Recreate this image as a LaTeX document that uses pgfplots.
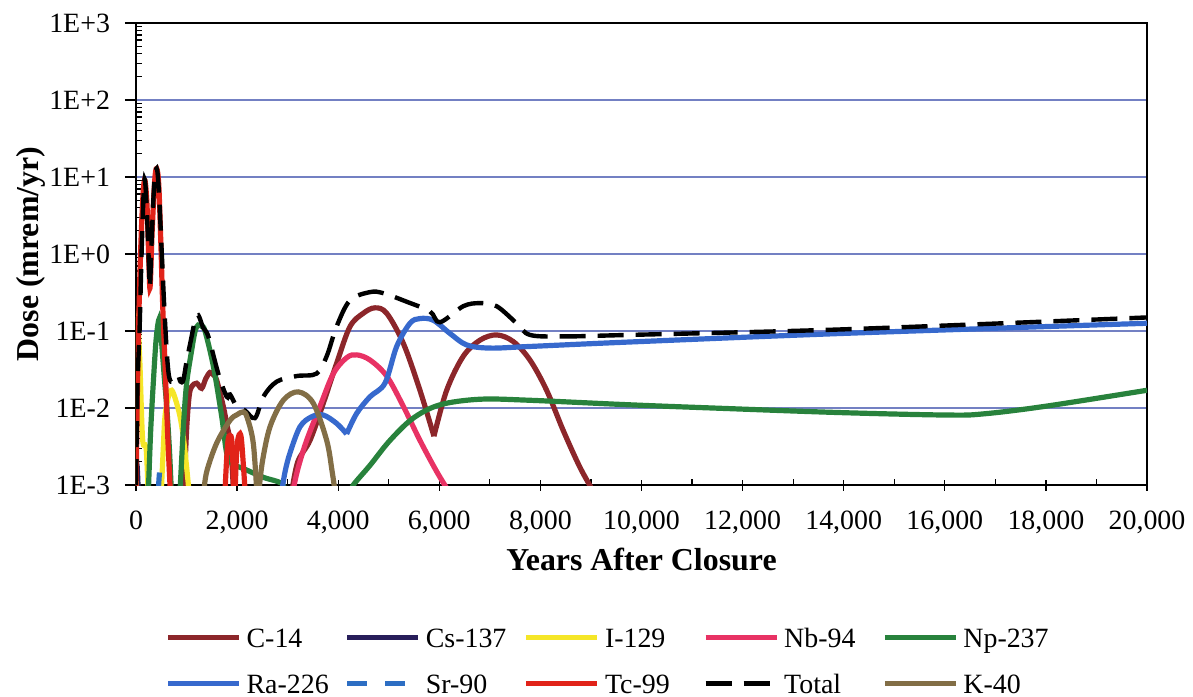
\documentclass[border=0pt]{standalone}
\usepackage{pgfplots}
\pgfplotsset{compat=1.18}
\usepackage{fontspec}
\setmainfont{Liberation Serif}
\definecolor{c14}{RGB}{140,38,42}
\definecolor{cs137}{RGB}{40,30,90}
\definecolor{i129}{RGB}{245,230,40}
\definecolor{nb94}{RGB}{232,50,100}
\definecolor{np237}{RGB}{40,130,60}
\definecolor{ra226}{RGB}{55,105,205}
\definecolor{sr90}{RGB}{45,110,195}
\definecolor{tc99}{RGB}{225,35,25}
\definecolor{k40}{RGB}{130,110,70}
\definecolor{gridc}{RGB}{115,128,195}
\begin{document}
\begin{tikzpicture}
\begin{axis}[
  width=505.5bp, height=231bp, scale only axis,
  xmin=0, xmax=20000, ymode=log, ymin=1e-3, ymax=1e3,
  scaled x ticks=false,
  xtick={0,2000,4000,6000,8000,10000,12000,14000,16000,18000,20000},
  xticklabels={0,{2,000},{4,000},{6,000},{8,000},{10,000},{12,000},{14,000},{16,000},{18,000},{20,000}},
  minor xtick={1000,3000,5000,7000,9000,11000,13000,15000,17000,19000},
  ytick={1e-3,1e-2,1e-1,1,10,100,1000},
  yticklabels={1E-3,1E-2,1E-1,1E+0,1E+1,1E+2,1E+3},
  minor ytick={2e-3,3e-3,4e-3,5e-3,6e-3,7e-3,8e-3,9e-3,2e-2,3e-2,4e-2,5e-2,6e-2,7e-2,8e-2,9e-2,0.2,0.3,0.4,0.5,0.6,0.7,0.8,0.9,2,3,4,5,6,7,8,9,20,30,40,50,60,70,80,90,200,300,400,500,600,700,800,900},
  tick pos=left, tick align=inside,
  major tick length=5.5bp, minor tick length=3bp,
  every major x tick/.append style={yshift=-2.75bp},
  every major y tick/.append style={xshift=-5.5bp},
  tick style={black, line width=0.6bp},
  axis line style={black, line width=0.7bp},
  ymajorgrids, major grid style={gridc, line width=0.6bp},
  ticklabel style={font=\fontsize{14}{16}\selectfont},
  xticklabel style={yshift=-9.5bp},
  yticklabel style={xshift=-9.5bp},
  xlabel={Years After Closure}, ylabel={Dose (mrem/yr)},
  ylabel shift=-5bp,
  xlabel style={font=\bfseries\fontsize{16}{19}\selectfont},
  ylabel style={font=\bfseries\fontsize{16}{19}\selectfont},
  clip=true,
  legend columns=5,
  legend cell align=left,
  legend image code/.code={\draw[#1] (0bp,0bp) -- (35.5bp,0bp);},
  legend style={at={(0.0287,-0.3007)}, anchor=north west, draw=none, fill=none,
    inner sep=0pt, font=\fontsize{14}{16.8}\selectfont, nodes={inner sep=0pt},
    row sep=9.7bp,
    /tikz/every odd column/.append style={column sep=2.5bp}},
  every axis plot/.append style={line width=2.6bp, smooth, tension=0.55},
]
% C-14
\addplot[c14] coordinates {(950,0.0008)(1000,0.005)(1050,0.014)(1101,0.019)(1200,0.021)(1299,0.018)(1380,0.024)(1464,0.029)(1530,0.027)(1596,0.023)(1727,0.0105)(1800,0.006)(1859,0.0038)(1900,0.0018)(1930,0.0008)};
\addlegendentry{\makebox[49bp][l]{\strut C-14}}
\addplot[c14, forget plot] coordinates {(3080,0.0008)(3200,0.002)(3442,0.0038)(3705,0.0115)(3969,0.038)(4233,0.114)(4496,0.17)(4727,0.20)(4959,0.17)(5289,0.069)(5617,0.017)(5894,0.0043)};
\addplot[c14, forget plot] coordinates {(5894,0.0043)(6146,0.017)(6474,0.047)(6804,0.076)(7134,0.089)(7463,0.073)(7793,0.042)(8123,0.017)(8452,0.0051)(8782,0.0017)(9060,0.0008)};
% Cs-137
\addplot[cs137] coordinates {(0,0.0008)(20,0.0018)(45,0.0008)};
\addlegendentry{\makebox[49bp][l]{\strut Cs-137}}
% I-129
\addplot[i129] coordinates {(500,0.0008)(540,0.003)(574,0.0078)(640,0.014)(706,0.017)(780,0.013)(870,0.0078)(940,0.004)(1002,0.0017)(1050,0.0008)};
\addlegendentry{\makebox[49bp][l]{\strut I-129}}
\addplot[i129, forget plot] coordinates {(0,0.0008)(25,0.1)(70,0.05)(130,0.004)(200,0.003)(240,0.0008)};
% Nb-94
\addplot[nb94] coordinates {(3100,0.0008)(3200,0.0016)(3376,0.0038)(3640,0.0105)(3904,0.028)(4167,0.045)(4365,0.049)(4629,0.042)(4959,0.026)(5289,0.0105)(5617,0.0038)(5947,0.0015)(6200,0.0008)};
\addlegendentry{\makebox[49bp][l]{\strut Nb-94}}
% Np-237
\addplot[np237] coordinates {(4250,0.0008)(4298,0.001)(4629,0.0018)(5025,0.0038)(5486,0.0074)(6013,0.011)(6804,0.013)(7793,0.0126)(9771,0.011)(11583,0.0099)(13980,0.0087)(16060,0.0081)(16775,0.0084)(17977,0.0105)(20000,0.017)};
\addlegendentry{\makebox[49bp][l]{\strut Np-237}}
\addplot[np237, forget plot] coordinates {(244,0.0008)(290,0.005)(342,0.021)(400,0.08)(461,0.145)(500,0.08)(560,0.025)(610,0.01)(660,0.003)(700,0.0008)};
\addplot[np237, forget plot] coordinates {(870,0.0008)(940,0.006)(1002,0.021)(1101,0.056)(1170,0.1)(1233,0.12)(1300,0.115)(1365,0.10)(1530,0.035)(1695,0.0078)(1794,0.0026)(1900,0.0019)(2156,0.0016)(2518,0.00126)(2882,0.00105)(2950,0.0008)};
% Ra-226
\addplot[ra226] coordinates {(2880,0.0008)(2950,0.0015)(3046,0.0026)(3244,0.0057)(3475,0.0077)(3705,0.0081)(3970,0.0063)(4167,0.0046)};
\addlegendentry{\makebox[49bp][l]{\strut Ra-226}}
\addplot[ra226, forget plot] coordinates {(4167,0.0046)(4365,0.0085)(4629,0.014)(4925,0.021)(5157,0.063)(5420,0.126)(5617,0.145)(5881,0.138)(6211,0.093)(6540,0.066)(7002,0.060)(7793,0.063)(9771,0.072)(13980,0.093)(20000,0.126)};
% Sr-90
\addplot[sr90, dash pattern=on 10bp off 9bp] coordinates {(440,0.0008)(470,0.0015)(500,0.0008)};
\addlegendentry{\makebox[49bp][l]{\strut Sr-90}}
% Tc-99
\addplot[tc99] coordinates {(0,0.0008)(40,0.05)(90,1.0)(140,6)(178,9)(220,4)(260,0.6)(280,0.38)(320,2)(370,9)(409,12.9)(450,8)(490,1.5)(530,0.2)(580,0.03)(630,0.004)(680,0.0008)};
\addlegendentry{\makebox[49bp][l]{\strut Tc-99}}
\addplot[tc99, forget plot] coordinates {(1760,0.0008)(1790,0.002)(1820,0.0038)(1860,0.0044)(1900,0.0035)(1935,0.0008)};
\addplot[tc99, forget plot] coordinates {(1960,0.0008)(1995,0.003)(2040,0.0045)(2080,0.0042)(2120,0.002)(2160,0.0008)};
% Total
\addplot[black, line width=2.2bp, dash pattern=on 13bp off 6bp] coordinates {(0,0.001)(30,0.02)(70,0.1)(110,1)(150,6)(178,9.1)(220,3)(260,0.6)(277,0.38)(310,1.5)(360,8)(409,12.9)(450,7)(508,1.1)(560,0.2)(607,0.056)(640,0.03)(672,0.023)(720,0.022)(780,0.026)(837,0.026)(880,0.022)(936,0.023)(1000,0.04)(1101,0.085)(1170,0.14)(1233,0.16)(1330,0.11)(1431,0.085)(1628,0.028)(1794,0.014)(1860,0.015)(1992,0.0105)(2156,0.0093)(2354,0.0074)(2519,0.014)(2783,0.022)(3179,0.026)(3574,0.028)(3772,0.047)(3970,0.115)(4233,0.25)(4629,0.32)(4892,0.31)(5355,0.24)(5815,0.18)(6013,0.13)(6474,0.21)(6804,0.23)(7134,0.21)(7530,0.126)(7793,0.089)(8452,0.085)(9771,0.089)(13980,0.105)(20000,0.15)};
\addlegendentry{\makebox[49bp][l]{\strut Total}}
% K-40
\addplot[k40] coordinates {(1340,0.0008)(1400,0.0015)(1596,0.0035)(1859,0.0069)(2000,0.0082)(2123,0.0089)(2200,0.0075)(2320,0.0035)(2390,0.0008)};
\addlegendentry{\makebox[49bp][l]{\strut K-40}}
\addplot[k40, forget plot] coordinates {(2430,0.0008)(2500,0.002)(2651,0.0057)(2914,0.0126)(3211,0.0162)(3508,0.0115)(3772,0.0038)(3880,0.0015)(3940,0.0008)};
\end{axis}
\pgfresetboundingbox
\path[use as bounding box] (-68bp,-106bp) rectangle (528.5bp,242.5bp);
\end{tikzpicture}
\end{document}
